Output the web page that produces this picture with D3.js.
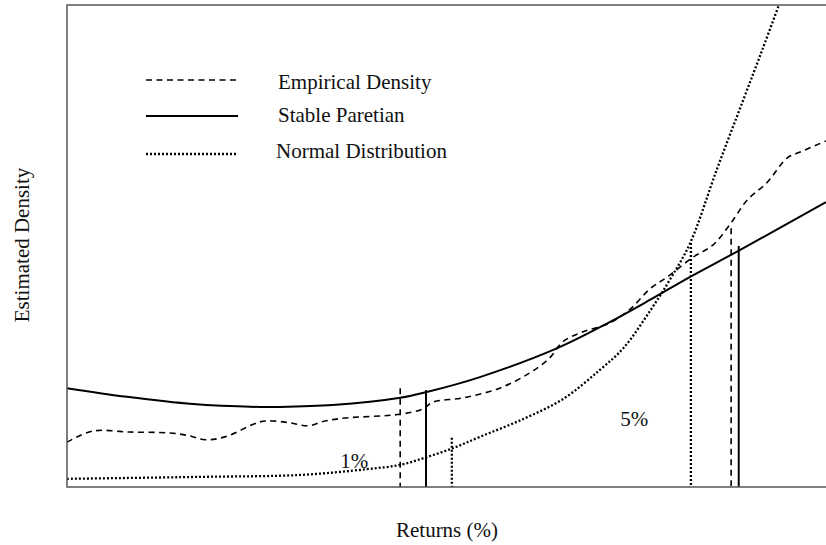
<!DOCTYPE html>
<html>
<head>
<meta charset="UTF-8" />
<title>Estimated Density</title>
<script src="https://d3js.org/d3.v7.min.js"></script>
<style>
  body { margin: 0; background: #fff; }
  text { font-family: "Liberation Serif", "DejaVu Serif", serif; font-size: 21px; fill: #111; }
  .curve { fill: none; stroke: #000; }
</style>
</head>
<body>
<script>
// x: returns (plot-relative units, 0..100), y: estimated density (0..100)
var stableX = [0, 7.9, 16.6, 25.4, 27.7, 35.0, 43.9, 47.4, 54.4, 64.6, 71.5, 76.8, 82.1, 88.7, 100];
var stableY = [20.5, 18.7, 17.2, 16.6, 16.6, 17.0, 18.5, 19.7, 22.8, 28.8, 34.2, 38.8, 43.6, 49.2, 59.1];

var empiricalX = [0, 3.4, 8.3, 13.6, 16.2, 18.2, 20.8, 25.4, 27.1, 29.4, 31.8, 34.0, 36.6, 43.9, 46.9, 48.2, 52.2, 57.0, 61.0, 63.6, 65.3, 68.0, 71.5, 74.2, 76.8, 79.1, 82.5, 85.1, 87.4, 89.6, 92.2, 94.9, 96.6, 100];
var empiricalY = [9.3, 11.6, 11.4, 11.2, 10.6, 9.8, 10.4, 13.5, 13.7, 13.3, 12.7, 13.7, 14.3, 15.1, 16.2, 17.6, 18.5, 20.5, 23.7, 26.8, 30.1, 32.2, 34.0, 36.9, 41.1, 43.6, 47.7, 50.2, 54.6, 59.5, 63.1, 68.3, 69.5, 71.8];

var normalX = [0, 17.5, 30.7, 39.5, 43.9, 47.4, 50.9, 54.4, 60.1, 65.4, 70.2, 73.3, 76.8, 79.5, 82.1, 85.6, 89.1, 91.7, 93.8];
var normalY = [1.7, 2.1, 2.5, 3.7, 4.6, 6.2, 8.1, 10.4, 14.1, 18.3, 24.3, 28.8, 36.5, 43.2, 50.6, 65.8, 80.3, 91.1, 100];

// quantile markers: x, top of the line, style
var markerX = [43.9, 47.3, 50.7, 82.2, 87.5, 88.5];
var markerTop = [20.5, 20.1, 10.2, 50.6, 53.7, 50.0];
var markerStyle = ["dashed", "solid", "dotted", "dotted", "dashed", "solid"];

var pctLabels = ["1%", "5%"];
var pctX = [36.0, 72.9];
var pctY = [3.9, 12.7];

var legendNames = ["Empirical Density", "Stable Paretian", "Normal Distribution"];
var legendStyle = ["dashed", "solid", "dotted"];

var width = 826, height = 545;
var plotL = 67, plotR = 826, plotT = 5, plotB = 487;

var dash = { dashed: "6,4.5", solid: null, dotted: "2,2" };
var sw = { dashed: 1.6, solid: 2, dotted: 2.3 };

var svg = d3.select("body").append("svg").attr("width", width).attr("height", height);

var x = d3.scaleLinear().domain([0, 100]).range([plotL, plotR]);
var y = d3.scaleLinear().domain([0, 100]).range([plotB, plotT]);

svg.append("clipPath").attr("id", "clip")
  .append("rect").attr("x", plotL).attr("y", plotT).attr("width", plotR - plotL).attr("height", plotB - plotT);

var line = d3.line()
  .x(function(d) { return x(d[0]); })
  .y(function(d) { return y(d[1]); })
  .curve(d3.curveCatmullRom.alpha(0.5));

function draw(xs, ys, style) {
  svg.append("path")
    .datum(d3.zip(xs, ys))
    .attr("class", "curve")
    .attr("clip-path", "url(#clip)")
    .attr("stroke-width", sw[style])
    .attr("stroke-dasharray", dash[style])
    .attr("d", line);
}

draw(empiricalX, empiricalY, "dashed");
draw(stableX, stableY, "solid");
draw(normalX, normalY, "dotted");

markerX.forEach(function(mx, i) {
  svg.append("line")
    .attr("x1", x(mx)).attr("x2", x(mx))
    .attr("y1", y(markerTop[i])).attr("y2", y(0))
    .attr("stroke", "#000")
    .attr("stroke-width", sw[markerStyle[i]])
    .attr("stroke-dasharray", dash[markerStyle[i]]);
});

pctLabels.forEach(function(t, i) {
  svg.append("text").attr("x", x(pctX[i])).attr("y", y(pctY[i])).text(t);
});

// frame: left, top and bottom
svg.append("path")
  .attr("d", "M" + plotR + "," + plotT + "H" + plotL + "V" + plotB + "H" + plotR)
  .attr("fill", "none").attr("stroke", "#555").attr("stroke-width", 1.5);

// legend
var legY = [80, 116, 154];
var legTextY = [89, 122, 158];
var legTextX = [278, 278, 276];
legendNames.forEach(function(name, i) {
  svg.append("line")
    .attr("x1", 146).attr("x2", 238)
    .attr("y1", legY[i]).attr("y2", legY[i])
    .attr("stroke", "#000")
    .attr("stroke-width", sw[legendStyle[i]])
    .attr("stroke-dasharray", dash[legendStyle[i]]);
  svg.append("text").attr("x", legTextX[i]).attr("y", legTextY[i]).text(name);
});

// axis titles
svg.append("text")
  .attr("x", 447).attr("y", 537)
  .attr("text-anchor", "middle")
  .text("Returns (%)");

svg.append("text")
  .attr("transform", "translate(29,245) rotate(-90)")
  .attr("text-anchor", "middle")
  .text("Estimated Density");
</script>
</body>
</html>
